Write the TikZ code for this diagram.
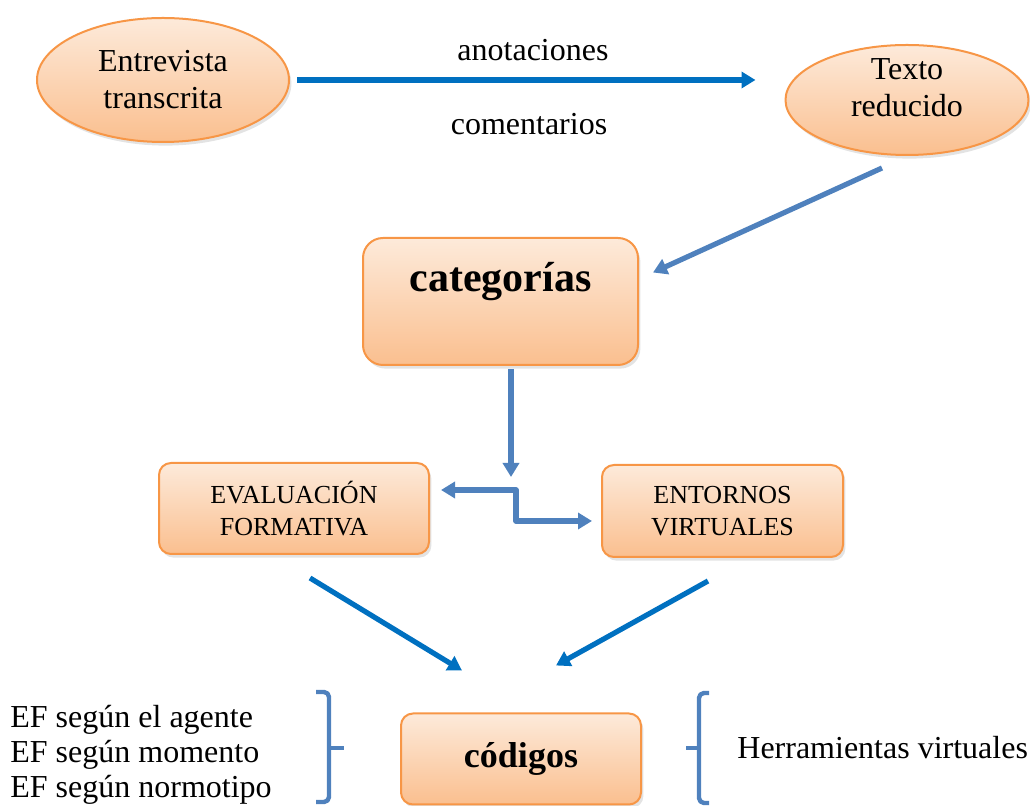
\documentclass[tikz,border=0pt]{standalone}
\usepackage{fontspec}
\setmainfont{Liberation Serif}
\usetikzlibrary{arrows.meta,positioning,calc,shapes.geometric,shadows}
\definecolor{cnedge}{RGB}{247,150,70}
\definecolor{cntop}{RGB}{253,234,218}
\definecolor{cnbot}{RGB}{250,191,143}
\definecolor{cnblue}{RGB}{0,112,192}
\definecolor{cnsteel}{RGB}{79,129,189}
\tikzset{
  cnshape/.style={
    draw=cnedge, line width=1pt, top color=cntop, bottom color=cnbot,
    drop shadow={opacity=0.22, shadow xshift=1.2pt, shadow yshift=-1.8pt}
  },
  oval/.style={cnshape, ellipse, inner sep=0pt, align=center,
    font=\fontsize{16}{18.5}\selectfont},
  card/.style={cnshape, rectangle, rounded corners=6pt, inner sep=0pt,
    align=center, font=\fontsize{13}{16}\selectfont},
  lbl/.style={font=\fontsize{16}{18.5}\selectfont, align=center},
  lst/.style={font=\fontsize{16}{17.5}\selectfont, align=left, inner sep=0pt},
  big/.style={font=\fontsize{21}{24}\selectfont\bfseries},
  arr/.style={-{Triangle[length=7pt,width=8pt]}, draw=cnblue, line width=2.6pt},
  arrs/.style={arr, draw=cnsteel},
  dbl/.style={{Triangle[length=7pt,width=8pt]}-{Triangle[length=7pt,width=8pt]},
    draw=cnsteel, line width=2.8pt},
  brk/.style={draw=cnsteel, line width=2.2pt, rounded corners=2.5pt},
  every picture/.append style={line join=round}
}
\begin{document}
\begin{tikzpicture}[x=0.5pt, y=-0.5pt]
  \useasboundingbox (0,0) rectangle (1030,806);
  % top row
  \node[oval, minimum width=126pt, minimum height=62pt] (ent) at (163,80)
    {Entrevista\\transcrita};
  \node[oval, minimum width=121.5pt, minimum height=55pt] (red) at (907,100) {};
  \node[lbl] (redt) at (907,88) {Texto\\reducido};
  \node[lbl] (anot) at (533,50) {anotaciones};
  \node[lbl] (coment) at (529,124) {comentarios};
  % categories
  \node[card, rounded corners=10pt, minimum width=137.5pt, minimum height=63.5pt]
    (cat) at (500.5,301.5) {};
  \node[big] (catt) at (500.5,282) {categorías};
  \node[card, minimum width=135pt, minimum height=45.5pt] (eval) at (294,508.5)
    {EVALUACIÓN\\FORMATIVA};
  \node[card, minimum width=120.5pt, minimum height=46pt] (env) at (722.5,511)
    {ENTORNOS\\VIRTUALES};
  \coordinate (fork) at (516,490);
  % codes
  \node[card, minimum width=120pt, minimum height=45.5pt,
    font=\fontsize{18}{20}\selectfont\bfseries] (cod) at (521,759) {códigos};
  \node[lst, anchor=west] (ef) at (10,755)
    {EF según el agente\\EF según momento\\EF según normotipo};
  \node[lst, anchor=west] (herr) at (737,748) {Herramientas virtuales};
  % connectors
  \draw[arr, shorten <=3.5pt, shorten >=14.5pt] (ent.east) -- (ent.east -| red.west);
  \draw[arrs] ($(red.south)+(-25,12)$) -- ($(cat.east)+(14,-29)$);
  \draw[arrs] ($(cat.south)+(10.5,3)$) -- ($(fork)+(-5,-13)$);
  \draw[dbl] ($(fork -| eval.east)+(11,0)$) -- (fork) |- ($(env.west)+(-9,10)$);
  \draw[arr] ($(eval.south)+(16,23)$) -- ($(cod.north)+(-59,-42)$);
  \draw[arr] ($(env.south)+(-14.5,23)$) -- ($(cod.north)+(35,-47)$);
  % brackets
  \draw[brk] (316,692) -- (329,692) -- (329,802) -- (316,802);
  \draw[brk] (329,748) -- (344,748);
  \draw[brk] (709,693) -- (699,693) -- (699,803) -- (709,803);
  \draw[brk] (699,748) -- (686,748);
\end{tikzpicture}
\end{document}
